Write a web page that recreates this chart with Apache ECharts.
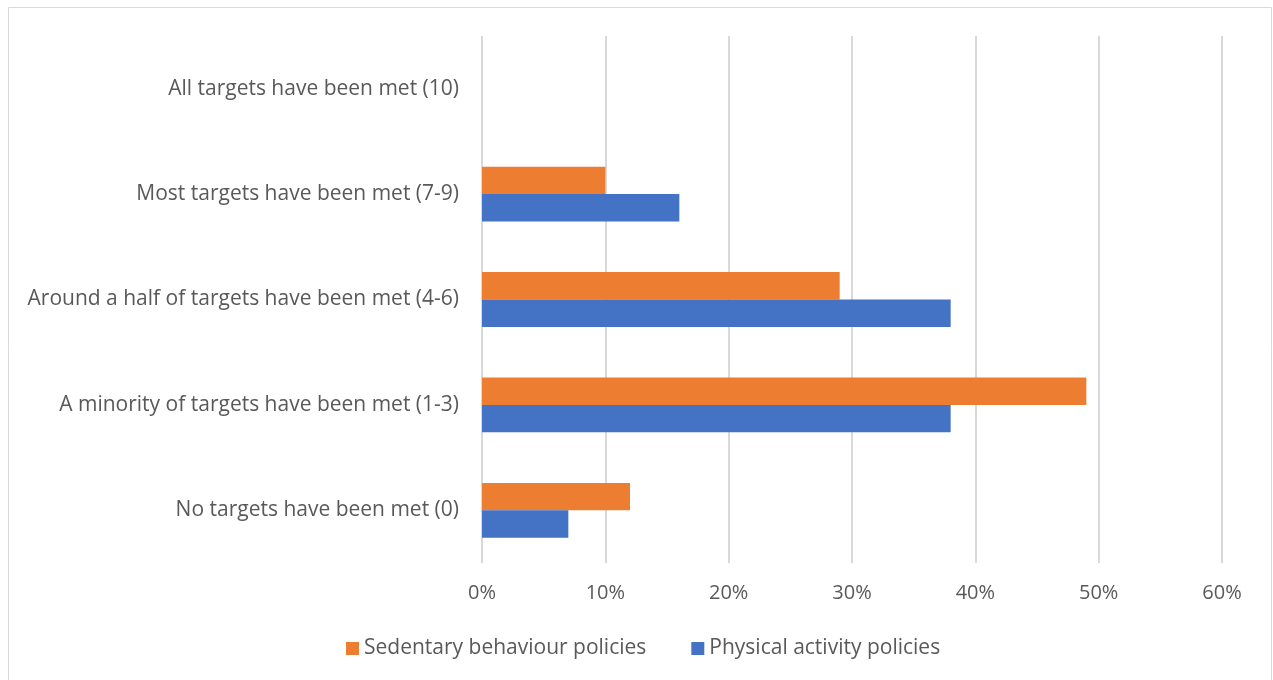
<!DOCTYPE html>
<html>
<head>
<meta charset="utf-8">
<script src="https://cdn.jsdelivr.net/npm/echarts@6/dist/echarts.min.js"></script>
<style>
  html, body { margin: 0; padding: 0; background: #ffffff; }
  #chart { width: 1273px; height: 680px; }
</style>
</head>
<body>
<div id="chart"></div>
<script>
// Categories listed bottom to top
const categories = [
  'No targets have been met (0)',
  'A minority of targets have been met (1-3)',
  'Around a half of targets have been met (4-6)',
  'Most targets have been met (7-9)',
  'All targets have been met (10)'
];
const sedentaryPolicies = [12, 49, 29, 10, 0];
const physicalActivityPolicies = [7, 38, 38, 16, 0];
const xTicks = [0, 10, 20, 30, 40, 50, 60];

const FONT = 'Open Sans';
const TEXT = '#595959';

const chart = echarts.init(document.getElementById('chart'), null, { renderer: 'canvas' });
chart.setOption({
  animation: false,
  backgroundColor: '#ffffff',
  textStyle: { fontFamily: FONT },
  graphic: [{
    type: 'rect',
    shape: { x: 8.5, y: 7.5, width: 1263, height: 690 },
    style: { fill: 'none', stroke: '#d9d9d9', lineWidth: 1 },
    silent: true
  }],
  grid: { left: 482, right: 51, top: 36, bottom: 117, containLabel: false },
  legend: {
    data: ['Sedentary behaviour policies', 'Physical activity policies'],
    top: 633,
    left: 341,
    itemWidth: 13,
    itemHeight: 13,
    itemGap: 45,
    icon: 'rect',
    textStyle: { color: TEXT, fontSize: 21, fontFamily: FONT }
  },
  xAxis: {
    type: 'value',
    min: xTicks[0],
    max: xTicks[xTicks.length - 1],
    interval: 10,
    axisLine: { show: false },
    axisTick: { show: false },
    splitLine: { show: true, lineStyle: { color: '#d9d9d9', width: 2 } },
    axisLabel: { color: TEXT, fontSize: 20, margin: 20, formatter: v => v + '%' }
  },
  yAxis: {
    type: 'category',
    data: categories,
    axisLine: { show: false },
    axisTick: { show: false },
    axisLabel: { color: TEXT, fontSize: 21, margin: 23 }
  },
  series: [
    {
      name: 'Sedentary behaviour policies',
      type: 'bar',
      data: sedentaryPolicies,
      itemStyle: { color: '#ed7d31' },
      barGap: '0%',
      barCategoryGap: '48%'
    },
    {
      name: 'Physical activity policies',
      type: 'bar',
      data: physicalActivityPolicies,
      itemStyle: { color: '#4472c4' },
      barGap: '0%',
      barCategoryGap: '48%'
    }
  ]
});
</script>
</body>
</html>
